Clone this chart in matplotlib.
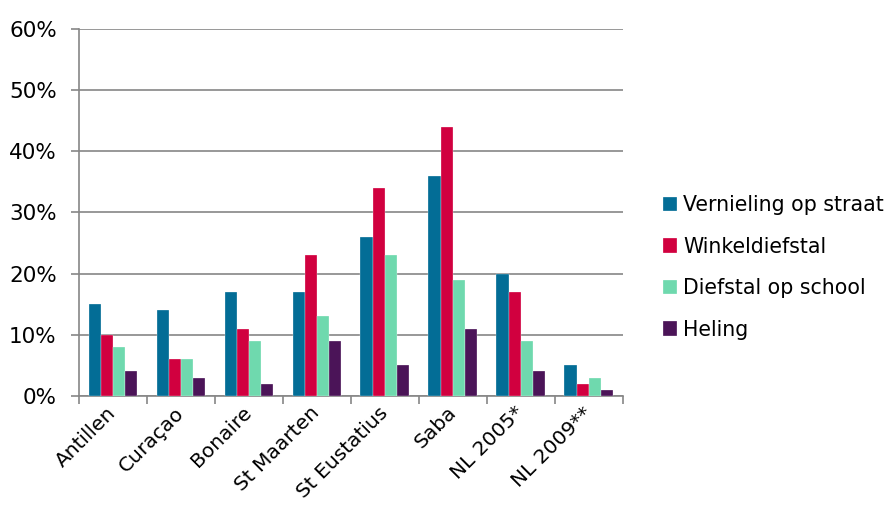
import matplotlib
matplotlib.use("Agg")
import matplotlib.pyplot as plt
import numpy as np
from matplotlib.ticker import FuncFormatter, MultipleLocator

categories = ["Antillen", "Curaçao", "Bonaire", "St Maarten", "St Eustatius", "Saba", "NL 2005*", "NL 2009**"]
series_names = ["Vernieling op straat", "Winkeldiefstal", "Diefstal op school", "Heling"]
vernieling = [15, 14, 17, 17, 26, 36, 20, 5]
winkeldiefstal = [10, 6, 11, 23, 34, 44, 17, 2]
diefstal_school = [8, 6, 9, 13, 23, 19, 9, 3]
heling = [4, 3, 2, 9, 5, 11, 4, 1]
colors = ["#036D96", "#D1003F", "#6FD9AE", "#4B1458"]

plt.rcParams['font.family'] = ['DejaVu Sans']
fig = plt.figure(figsize=(8.95, 5.07), dpi=100)
ax = fig.add_axes([0.0883, 0.219, 0.696 - 0.0883, 0.943 - 0.219])

x = np.arange(len(categories))
w = 0.18
data = [vernieling, winkeldiefstal, diefstal_school, heling]
for i, (vals, name, c) in enumerate(zip(data, series_names, colors)):
    ax.bar(x + (i - 1.5) * w, vals, width=w, color=c, label=name, zorder=3,
           edgecolor='white', linewidth=0.2)

ax.set_xlim(-0.5, len(categories) - 0.5)
ax.set_ylim(0, 60)
ax.yaxis.set_major_locator(MultipleLocator(10))
ax.yaxis.set_major_formatter(FuncFormatter(lambda v, p: f"{int(v)}%"))
ax.grid(axis='y', color='#868686', linewidth=1.2, zorder=0)
ax.set_axisbelow(True)

for s in ['top', 'right']:
    ax.spines[s].set_visible(False)
for s in ['left', 'bottom']:
    ax.spines[s].set_color('#868686')
    ax.spines[s].set_linewidth(1.2)

ax.set_xticks(x)
ax.set_xticklabels(categories, rotation=45, ha='right', va='center', rotation_mode='anchor', fontsize=14.5)
ax.set_xticks(np.arange(-0.5, len(categories), 1), minor=True)
ax.tick_params(axis='x', which='major', length=0, pad=10)
ax.tick_params(axis='x', which='minor', length=6, width=1.2, color='#868686', direction='out')
ax.tick_params(axis='y', length=6, width=1.2, color='#868686', labelsize=15.5, pad=10)

leg = ax.legend(loc='center left', bbox_to_anchor=(1.058, 0.35), frameon=False, fontsize=14.8,
                handlelength=0.7, handleheight=0.7, handletextpad=0.3, labelspacing=1.05,
                borderaxespad=0)

fig.savefig("out.png", dpi=100)
